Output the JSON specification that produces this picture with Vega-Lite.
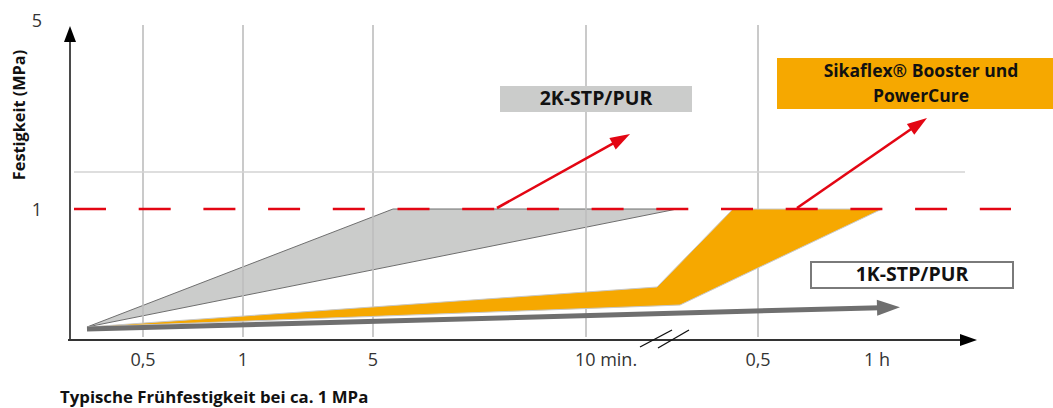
{
  "$schema": "https://vega.github.io/schema/vega-lite/v6.json",
  "width": 1053,
  "height": 408,
  "padding": 0,
  "autosize": {"type": "fit", "contains": "padding"},
  "background": "white",
  "config": {"view": {"stroke": null}, "text": {"font": "Open Sans"}},
  "datasets": {
    "grid": [{"x": 73, "y": 313, "y2": 1}, {"x": 173, "y": 313, "y2": 1}, {"x": 303, "y": 313, "y2": 1}, {"x": 516, "y": 313, "y2": 1}, {"x": 688, "y": 313, "y2": 1}],
    "hline": [{"x": 4, "x2": 895, "y": 166}],
    "redline": [{"x": 4, "x2": 941, "y": 129}],
    "grey": [{"x": 17, "y": 11, "y2": 11}, {"x": 323, "y": 129, "y2": 72.2}, {"x": 607, "y": 129, "y2": 129}],
    "orange": [{"x": 17, "y": 11, "y2": 11}, {"x": 587, "y": 51, "y2": 32.1}, {"x": 610, "y": 74.6, "y2": 33}, {"x": 663, "y": 129, "y2": 58.2}, {"x": 812, "y": 129, "y2": 129}],
    "onek": [{"x": 17, "y": 9, "x2": 810, "y2": 30.3}],
    "onekhead": [{"x": 818.5, "y": 30.5}],
    "yaxis": [{"x": 0, "y": 298, "x2": 0, "y2": -2}],
    "yhead": [{"x": 0, "y": 304}],
    "xaxis": [{"x": -2, "y": -2, "x2": 892, "y2": -2}],
    "xhead": [{"x": 898.5, "y": -2}],
    "breaks": [{"x": 570, "y": -9, "x2": 602, "y2": 8}, {"x": 588, "y": -10, "x2": 619, "y2": 8}],
    "redarrows": [{"x": 427, "y": 130, "x2": 551.3, "y2": 199.1}, {"x": 727, "y": 130, "x2": 848.8, "y2": 214.3}],
    "head1": [{"x": 551.3, "y": 199.1}],
    "head2": [{"x": 848.8, "y": 214.3}],
    "box2k": [{"x": 430, "x2": 622, "y": 252, "y2": 226}],
    "boxsika": [{"x": 707, "x2": 983, "y": 280, "y2": 229}],
    "box1k": [{"x": 741, "x2": 943, "y": 76, "y2": 50}],
    "boxlabels": [{"x": 526, "y": 239, "label": "2K-STP/PUR"}, {"x": 842, "y": 63, "label": "1K-STP/PUR"}],
    "sikalabels": [{"x": 851, "y": 266, "label": "Sikaflex® Booster und"}, {"x": 851, "y": 241, "label": "PowerCure"}],
    "ticks": [{"x": -33, "y": 316, "label": "5"}, {"x": -33, "y": 127, "label": "1"}, {"x": 73, "y": -23, "label": "0,5"}, {"x": 173, "y": -23, "label": "1"}, {"x": 303, "y": -23, "label": "5"}, {"x": 536, "y": -23, "label": "10 min."}, {"x": 688, "y": -23, "label": "0,5"}, {"x": 807, "y": -23, "label": "1 h"}],
    "xtitle": [{"x": -10, "y": -60, "label": "Typische Frühfestigkeit bei ca. 1 MPa"}],
    "ytitle": [{"x": -50, "y": 223, "label": "Festigkeit (MPa)"}]
  },
  "encoding": {
    "x": {"field": "x", "type": "quantitative", "scale": {"domain": [-70, 983], "nice": false, "zero": false}, "axis": null},
    "y": {"field": "y", "type": "quantitative", "scale": {"domain": [-70, 338], "nice": false, "zero": false}, "axis": null}
  },
  "layer": [
    {"data": {"name": "grey"}, "mark": {"type": "area", "fill": "#cbcccb", "stroke": "#6f6f6f", "strokeWidth": 1, "opacity": 1}, "encoding": {"y2": {"field": "y2"}}},
    {"data": {"name": "grid"}, "mark": {"type": "rule", "color": "#bdbdbd", "strokeWidth": 1.6}, "encoding": {"y2": {"field": "y2"}}},
    {"data": {"name": "hline"}, "mark": {"type": "rule", "color": "#d3d3d3", "strokeWidth": 1.5}, "encoding": {"x2": {"field": "x2"}}},
    {"data": {"name": "orange"}, "mark": {"type": "area", "fill": "#f6a800", "stroke": "#c8c8c8", "strokeWidth": 1, "opacity": 1}, "encoding": {"y2": {"field": "y2"}}},
    {"data": {"name": "onek"}, "mark": {"type": "rule", "color": "#6f6f6f", "strokeWidth": 5}, "encoding": {"x2": {"field": "x2"}, "y2": {"field": "y2"}}},
    {"data": {"name": "onekhead"}, "mark": {"type": "point", "shape": "M1,0L-1,-0.7L-1,0.7Z", "size": 529, "filled": true, "color": "#6f6f6f", "opacity": 1, "angle": -1.5}},
    {"data": {"name": "redline"}, "mark": {"type": "rule", "color": "#e30613", "strokeWidth": 2.6, "strokeDash": [32, 32.7]}, "encoding": {"x2": {"field": "x2"}}},
    {"data": {"name": "redarrows"}, "mark": {"type": "rule", "color": "#e30613", "strokeWidth": 2.6}, "encoding": {"x2": {"field": "x2"}, "y2": {"field": "y2"}}},
    {"data": {"name": "head1"}, "mark": {"type": "point", "shape": "M1,0L-1,-0.65L-1,0.65Z", "size": 400, "filled": true, "color": "#e30613", "opacity": 1, "angle": -29.1}},
    {"data": {"name": "head2"}, "mark": {"type": "point", "shape": "M1,0L-1,-0.65L-1,0.65Z", "size": 400, "filled": true, "color": "#e30613", "opacity": 1, "angle": -34.7}},
    {"data": {"name": "yaxis"}, "mark": {"type": "rule", "color": "#4a4a4a", "strokeWidth": 2}, "encoding": {"x2": {"field": "x2"}, "y2": {"field": "y2"}}},
    {"data": {"name": "yhead"}, "mark": {"type": "point", "shape": "M0,-1L0.75,1L-0.75,1Z", "size": 256, "filled": true, "color": "#000000", "opacity": 1}},
    {"data": {"name": "xaxis"}, "mark": {"type": "rule", "color": "#333333", "strokeWidth": 2}, "encoding": {"x2": {"field": "x2"}, "y2": {"field": "y2"}}},
    {"data": {"name": "xhead"}, "mark": {"type": "point", "shape": "M1,0L-1,-0.7L-1,0.7Z", "size": 289, "filled": true, "color": "#000000", "opacity": 1}},
    {"data": {"name": "breaks"}, "mark": {"type": "rule", "color": "#111111", "strokeWidth": 1.4}, "encoding": {"x2": {"field": "x2"}, "y2": {"field": "y2"}}},
    {"data": {"name": "box2k"}, "mark": {"type": "rect", "fill": "#cbcccb"}, "encoding": {"x2": {"field": "x2"}, "y2": {"field": "y2"}}},
    {"data": {"name": "boxsika"}, "mark": {"type": "rect", "fill": "#f6a800"}, "encoding": {"x2": {"field": "x2"}, "y2": {"field": "y2"}}},
    {"data": {"name": "box1k"}, "mark": {"type": "rect", "fill": "#ffffff", "stroke": "#7a7a7a", "strokeWidth": 2}, "encoding": {"x2": {"field": "x2"}, "y2": {"field": "y2"}}},
    {"data": {"name": "boxlabels"}, "mark": {"type": "text", "fontSize": 19.5, "fontWeight": "bold", "color": "#111111", "align": "center", "baseline": "middle"}, "encoding": {"text": {"field": "label"}}},
    {"data": {"name": "sikalabels"}, "mark": {"type": "text", "fontSize": 17.5, "fontWeight": "bold", "color": "#111111", "align": "center", "baseline": "middle"}, "encoding": {"text": {"field": "label"}}},
    {"data": {"name": "ticks"}, "mark": {"type": "text", "fontSize": 18, "color": "#333333", "align": "center", "baseline": "middle"}, "encoding": {"text": {"field": "label"}}},
    {"data": {"name": "xtitle"}, "mark": {"type": "text", "fontSize": 16.8, "fontWeight": "bold", "color": "#111111", "align": "left", "baseline": "middle"}, "encoding": {"text": {"field": "label"}}},
    {"data": {"name": "ytitle"}, "mark": {"type": "text", "fontSize": 16.3, "fontWeight": "bold", "color": "#111111", "align": "center", "baseline": "middle", "angle": 270}, "encoding": {"text": {"field": "label"}}}
  ]
}
